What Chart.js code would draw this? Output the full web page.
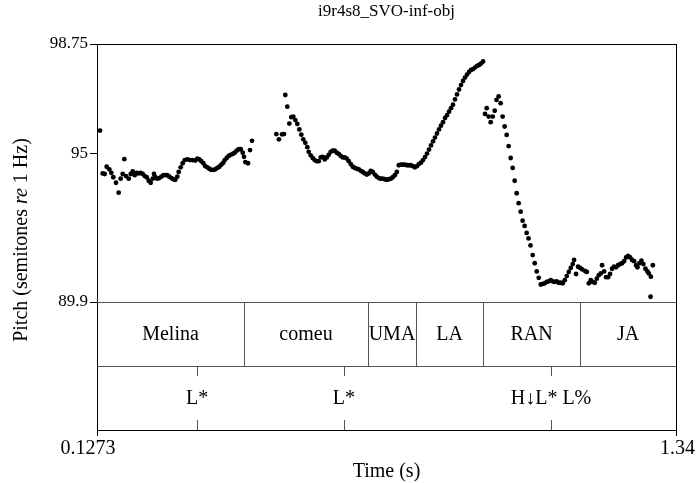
<!DOCTYPE html>
<html>
<head>
<meta charset="utf-8">
<script src="https://cdn.jsdelivr.net/npm/chart.js@4.4.0/dist/chart.umd.min.js"></script>
<style>
  html, body { margin: 0; padding: 0; background: #fff; }
  #wrap { width: 696px; height: 483px; }
</style>
</head>
<body>
<div id="wrap"><canvas id="pitchChart"></canvas></div>
<script>
// pitch track, [time (s), pitch (semitones re 1 Hz)]
const trackMelina = [
  [0.1336,95.78],[0.1392,94.31],[0.1434,94.29],[0.1476,94.54],[0.1531,94.45],[0.1573,94.33],
  [0.1614,94.18],[0.1671,93.99],[0.1727,93.65],[0.1769,94.13],[0.1811,94.29],[0.1845,94.80],
  [0.1880,94.22],[0.1937,94.13],[0.1979,94.29],[0.2021,94.38],[0.2063,94.25],[0.2104,94.33],
  [0.2146,94.31],[0.2188,94.33],[0.2230,94.29],[0.2272,94.22],[0.2314,94.18],[0.2356,94.06],
  [0.2398,93.99],[0.2440,94.13],[0.2467,94.29],[0.2494,94.18],[0.2536,94.13],[0.2578,94.15],
  [0.2620,94.20],[0.2662,94.25],[0.2704,94.25],[0.2746,94.25],[0.2788,94.20],[0.2830,94.15],
  [0.2872,94.11],[0.2913,94.09],[0.2955,94.20],[0.2984,94.36],[0.3026,94.52],[0.3068,94.66],
  [0.3110,94.77],[0.3164,94.79],[0.3221,94.77],[0.3277,94.77],[0.3332,94.75],[0.3374,94.82],
  [0.3416,94.79],[0.3458,94.73],[0.3500,94.66],[0.3541,94.56],[0.3583,94.52],[0.3625,94.47],
  [0.3667,94.43],[0.3709,94.43],[0.3751,94.45],[0.3793,94.50],[0.3835,94.54],[0.3877,94.61],
  [0.3919,94.68],[0.3948,94.77],[0.3990,94.84],[0.4032,94.91],[0.4073,94.95],[0.4115,94.98],
  [0.4157,95.02],[0.4199,95.09],[0.4241,95.14],[0.4283,95.14],[0.4325,95.02],[0.4352,94.88],
  [0.4379,94.70],[0.4436,94.66],[0.4478,95.11],[0.4520,95.43]
];

const trackComeu = [
  [0.5029,95.66],[0.5084,95.48],[0.5148,95.65],[0.5190,95.66],[0.5217,97.00],[0.5259,96.60],
  [0.5301,96.02],[0.5343,96.24],[0.5385,96.26],[0.5427,96.14],[0.5469,96.01],[0.5511,95.82],
  [0.5552,95.64],[0.5594,95.48],[0.5636,95.36],[0.5678,95.21],[0.5707,95.05],[0.5749,94.93],
  [0.5791,94.84],[0.5833,94.77],[0.5875,94.73],[0.5917,94.73],[0.5959,94.86],[0.6001,94.88],
  [0.6043,94.79],[0.6085,94.86],[0.6127,94.95],[0.6169,95.05],[0.6210,95.09],[0.6252,95.09],
  [0.6294,95.02],[0.6336,94.98],[0.6378,94.91],[0.6420,94.86],[0.6462,94.86],[0.6504,94.82],
  [0.6546,94.73],[0.6588,94.63],[0.6630,94.54],[0.6672,94.50],[0.6714,94.47],[0.6756,94.45],
  [0.6798,94.40],[0.6840,94.36],[0.6882,94.31],[0.6924,94.27],[0.6966,94.31],[0.7007,94.40],
  [0.7049,94.36],[0.7091,94.27],[0.7133,94.20],[0.7175,94.15],[0.7217,94.13],[0.7259,94.13],
  [0.7301,94.11],[0.7343,94.09],[0.7385,94.11],[0.7427,94.13],[0.7469,94.18],[0.7511,94.25],
  [0.7553,94.36]
];

const trackUmaLa = [
  [0.7595,94.59],[0.7637,94.61],[0.7679,94.61],[0.7721,94.61],[0.7763,94.59],[0.7805,94.59],
  [0.7846,94.59],[0.7888,94.56],[0.7930,94.52],[0.7972,94.56],[0.8014,94.63],[0.8059,94.68],
  [0.8101,94.77],[0.8143,94.87],[0.8185,94.99],[0.8227,95.13],[0.8269,95.27],[0.8311,95.41],
  [0.8352,95.54],[0.8394,95.68],[0.8436,95.82],[0.8478,95.95],[0.8520,96.07],[0.8562,96.21],
  [0.8604,96.31],[0.8646,96.43],[0.8688,96.55],[0.8729,96.67],[0.8771,96.85],[0.8813,97.02],
  [0.8855,97.19],[0.8897,97.34],[0.8939,97.48],[0.8981,97.60],[0.9023,97.70],[0.9065,97.79],
  [0.9107,97.86],[0.9149,97.89],[0.9190,97.94],[0.9232,98.00],[0.9274,98.03],[0.9316,98.08],
  [0.9358,98.15]
];

const trackRanJa = [
  [0.9400,96.35],[0.9435,96.55],[0.9477,96.26],[0.9519,96.07],[0.9561,96.26],[0.9603,96.46],
  [0.9640,96.83],[0.9685,96.95],[0.9727,96.72],[0.9769,96.26],[0.9811,95.92],[0.9853,95.63],
  [0.9895,95.25],[0.9937,94.84],[0.9979,94.50],[1.0021,94.06],[1.0063,93.63],[1.0104,93.29],
  [1.0146,93.00],[1.0188,92.69],[1.0230,92.51],[1.0272,92.27],[1.0311,92.08],[1.0353,91.84],
  [1.0399,91.51],[1.0441,91.23],[1.0483,90.95],[1.0525,90.73],[1.0567,90.50],[1.0609,90.52],
  [1.0651,90.54],[1.0693,90.59],[1.0734,90.61],[1.0776,90.65],[1.0818,90.61],[1.0860,90.59],
  [1.0902,90.61],[1.0944,90.56],[1.0986,90.56],[1.1028,90.54],[1.1070,90.65],[1.1112,90.79],
  [1.1154,90.93],[1.1196,91.07],[1.1238,91.20],[1.1265,91.34],[1.1307,90.86],[1.1349,91.11],
  [1.1391,91.07],[1.1433,91.02],[1.1489,90.97],[1.1531,90.93],[1.1573,90.54],[1.1615,90.65],
  [1.1657,90.59],[1.1699,90.56],[1.1741,90.70],[1.1783,90.82],[1.1825,90.88],[1.1852,91.16],
  [1.1894,90.95],[1.1936,90.75],[1.1977,90.75],[1.2019,90.86],[1.2061,91.04],[1.2103,91.11],
  [1.2145,91.09],[1.2187,91.16],[1.2229,91.20],[1.2271,91.23],[1.2313,91.30],[1.2355,91.43],
  [1.2397,91.48],[1.2439,91.43],[1.2481,91.34],[1.2523,91.30],[1.2565,91.16],[1.2592,91.09],
  [1.2634,91.23],[1.2676,91.32],[1.2718,91.20],[1.2760,91.04],[1.2802,90.95],[1.2831,90.88],
  [1.2873,90.77],[1.2915,91.16],[1.2867,90.08]
];

const timeRange = [0.1273, 1.34];
const pitchRange = [89.9, 98.75];
const pitchTicks = [89.9, 95, 98.75];

// annotation tiers
const words = ["Melina", "comeu", "UMA", "LA", "RAN", "JA"];
const wordBounds = [0.1273, 0.4352, 0.6949, 0.7954, 0.9358, 1.1389, 1.34];
const tones = ["L*", "L*", "H\u2193L* L%"];
const toneTimes = [0.3368, 0.6446, 1.0782];

const chartTitle = "i9r4s8_SVO-inf-obj";
const xTitle = "Time (s)";

const FONT = "Liberation Serif";
const FS = 17;      // title, pitch ticks
const FS_BIG = 20;  // tiers, time labels, axis titles
const TIER_H = 64;

const allPoints = [...trackMelina, ...trackComeu, ...trackUmaLa, ...trackRanJa]
  .map(([t, p]) => ({ x: t, y: p }));

const font = (size, style) => (style || "") + size + "px '" + FONT + "'";

const tierPlugin = {
  id: "tiers",
  afterDraw(chart) {
    const ctx = chart.ctx;
    const area = chart.chartArea;
    const xs = chart.scales.x;
    const top = area.top, left = area.left, right = area.right;
    const tier1Top = area.bottom;
    const tier2Top = tier1Top + TIER_H;
    const bottom = tier2Top + TIER_H;

    ctx.save();
    ctx.fillStyle = "#000";

    // frame + tier separators
    ctx.strokeStyle = "#000";
    ctx.lineWidth = 1;
    ctx.strokeRect(left + 0.5, top + 0.5, right - left, bottom - top);
    ctx.strokeStyle = "#555";
    ctx.beginPath();
    ctx.moveTo(left, tier1Top + 0.5); ctx.lineTo(right, tier1Top + 0.5);
    ctx.moveTo(left, tier2Top + 0.5); ctx.lineTo(right, tier2Top + 0.5);
    for (let i = 1; i < wordBounds.length - 1; i++) {
      const x = Math.round(xs.getPixelForValue(wordBounds[i])) + 0.5;
      ctx.moveTo(x, tier1Top); ctx.lineTo(x, tier2Top);
    }
    toneTimes.forEach(t => {
      const x = Math.round(xs.getPixelForValue(t)) + 0.5;
      ctx.moveTo(x, tier2Top); ctx.lineTo(x, tier2Top + 10);
      ctx.moveTo(x, bottom - 10); ctx.lineTo(x, bottom);
    });
    ctx.stroke();

    // tier texts
    ctx.font = font(FS_BIG);
    ctx.textAlign = "center";
    ctx.textBaseline = "middle";
    words.forEach((w, i) => {
      const x = (xs.getPixelForValue(wordBounds[i]) + xs.getPixelForValue(wordBounds[i + 1])) / 2;
      ctx.fillText(w, x, tier1Top + TIER_H / 2 + 1);
    });
    tones.forEach((s, i) => {
      ctx.fillText(s, xs.getPixelForValue(toneTimes[i]), tier2Top + TIER_H / 2 + 1);
    });

    // time axis
    ctx.strokeStyle = "#000";
    ctx.beginPath();
    timeRange.forEach(t => {
      const x = Math.round(xs.getPixelForValue(t)) + 0.5;
      ctx.moveTo(x, bottom); ctx.lineTo(x, bottom + 6);
    });
    ctx.stroke();
    ctx.textBaseline = "top";
    ctx.fillText(String(timeRange[0]), xs.getPixelForValue(timeRange[0]) - 9, bottom + 9);
    ctx.textAlign = "right";
    ctx.fillText(String(timeRange[1]), chart.width - 1, bottom + 9);
    ctx.textAlign = "center";
    ctx.fillText(xTitle, (left + right) / 2, bottom + 32);

    // title
    ctx.font = font(FS);
    ctx.fillText(chartTitle, (left + right) / 2, 3);

    // pitch axis title with italic "re"
    const parts = [["Pitch (semitones ", ""], ["re", "italic "], [" 1 Hz)", ""]];
    let total = 0;
    parts.forEach(([s, st]) => { ctx.font = font(FS_BIG, st); total += ctx.measureText(s).width; });
    ctx.translate(22, 240);
    ctx.rotate(-Math.PI / 2);
    ctx.textAlign = "left";
    ctx.textBaseline = "middle";
    let px = -total / 2;
    parts.forEach(([s, st]) => {
      ctx.font = font(FS_BIG, st);
      ctx.fillText(s, px, 0);
      px += ctx.measureText(s).width;
    });
    ctx.restore();
  }
};

new Chart(document.getElementById("pitchChart"), {
  type: "scatter",
  data: {
    datasets: [{
      data: allPoints,
      backgroundColor: "#000",
      borderWidth: 0,
      pointRadius: 2.4,
      pointHoverRadius: 2.4
    }]
  },
  options: {
    responsive: true,
    maintainAspectRatio: false,
    animation: false,
    events: [],
    layout: { padding: { left: 0, right: 20, top: 44, bottom: 181 } },
    plugins: { legend: { display: false }, tooltip: { enabled: false } },
    scales: {
      x: { type: "linear", display: false, min: timeRange[0], max: timeRange[1] },
      y: {
        type: "linear",
        min: pitchRange[0],
        max: pitchRange[1],
        afterBuildTicks: scale => { scale.ticks = pitchTicks.map(v => ({ value: v })); },
        afterFit: scale => { scale.width = 97; },
        grid: { drawOnChartArea: false, drawTicks: true, tickLength: 7, color: "#000" },
        border: { display: true, color: "#000" },
        ticks: {
          color: "#000",
          padding: 2,
          font: { family: FONT, size: FS },
          callback: v => String(v)
        }
      }
    }
  },
  plugins: [tierPlugin]
});
</script>
</body>
</html>
